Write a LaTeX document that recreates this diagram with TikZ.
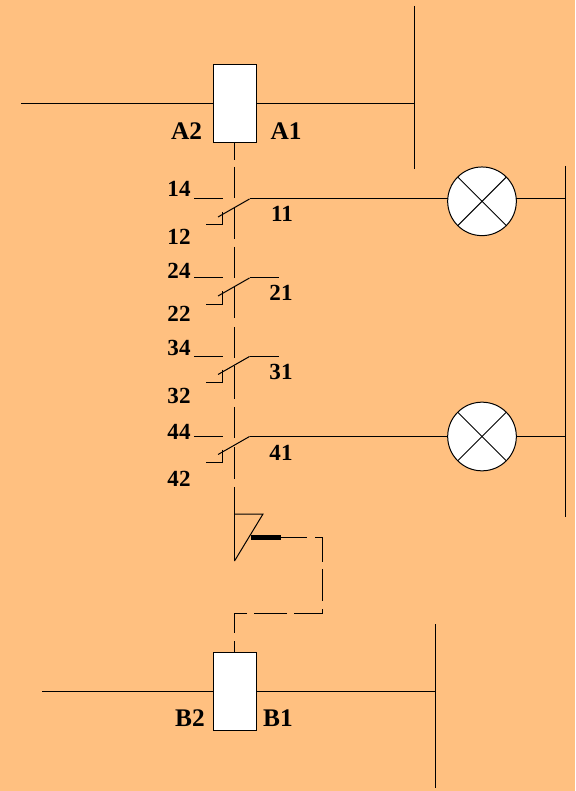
\documentclass[tikz,border=0pt]{standalone}
\usepackage{fontspec}
\setmainfont{Liberation Serif}
\definecolor{bgc}{RGB}{255,192,128}
\tikzset{
  wire/.style={draw=black,line width=0.75pt},
  coilbox/.style={draw=black,fill=white,line width=0.75pt,minimum width=32.25pt,minimum height=58.5pt,inner sep=0pt,outer sep=0pt},
  lampc/.style={circle,draw=black,fill=white,line width=0.75pt,minimum size=51.5pt,inner sep=0pt,outer sep=0pt},
  lbl/.style={font=\bfseries\fontsize{17.3pt}{18pt}\selectfont,inner sep=0pt,text=black},
  lblbig/.style={font=\bfseries\fontsize{19pt}{20pt}\selectfont,inner sep=0pt,text=black}
}
\begin{document}
\begin{tikzpicture}[x=0.75pt,y=-0.75pt]
\useasboundingbox (0,0) rectangle (575,791);
\fill[bgc] (0,0) rectangle (575,791);

% buses
\coordinate (busAt) at (414.5,6); \coordinate (busAb) at (414.5,169);
\coordinate (busBt) at (435.5,624); \coordinate (busBb) at (435.5,788);
\coordinate (busLt) at (565.5,166); \coordinate (busLb) at (565.5,517);
\draw[wire] (busAt) -- (busAb);
\draw[wire] (busBt) -- (busBb);
\draw[wire] (busLt) -- (busLb);

% coils
\coordinate (aL) at (21,103.5); \coordinate (aR) at (414.5,103.5);
\coordinate (bL) at (42,691.5); \coordinate (bR) at (435.5,691.5);
\draw[wire] (aL) -- (aR);
\draw[wire] (bL) -- (bR);
\node[coilbox] (coilA) at (235,103.5) {};
\node[coilbox] (coilB) at (235,691.5) {};

% mechanical link
\draw[wire] (234.5,142.5) -- (234.5,160);
\draw[wire] (234.5,167) -- (234.5,198);
\draw[wire] (234.5,208) -- (234.5,239);
\draw[wire] (234.5,247) -- (234.5,278);
\draw[wire] (234.5,287) -- (234.5,318);
\draw[wire] (234.5,327) -- (234.5,358);
\draw[wire] (234.5,366) -- (234.5,399);
\draw[wire] (234.5,407) -- (234.5,438);
\draw[wire] (234.5,447) -- (234.5,479);
\draw[wire] (234.5,487) -- (234.5,561);

% lamps
\node[lampc] (lamp1) at (482,201.3) {};
\node[lampc] (lamp2) at (482,436.5) {};
\foreach \l in {lamp1,lamp2}{
  \draw[wire] (\l.north west) -- (\l.south east);
  \draw[wire] (\l.north east) -- (\l.south west);
}

% contacts
\foreach \y/\n in {199/a,278/b,356.5/c,436.5/d}{
  \coordinate (f\n) at (194,\y);
  \coordinate (g\n) at (223,\y);
  \coordinate (p\n) at (249.5,\y);
  \coordinate (m\n) at (218,\y+18);
  \coordinate (t\n) at (222.5,\y+13);
  \coordinate (u\n) at (222.5,\y+26);
  \coordinate (v\n) at (205.5,\y+26);
  \draw[wire] (f\n) -- (g\n);
  \draw[wire] (m\n) -- (p\n);
  \draw[wire] (t\n) -- (u\n) -- (v\n);
}
\coordinate (eb) at (279,278); \coordinate (ec) at (279,356.5);
\draw[wire] (pb) -- (eb);
\draw[wire] (pc) -- (ec);
\coordinate (lamp1w) at (447.7,199); \coordinate (lamp1e) at (516.3,199);
\coordinate (lamp2w) at (447.7,436.5); \coordinate (lamp2e) at (516.3,436.5);
\coordinate (busL1) at (565.5,199); \coordinate (busL2) at (565.5,436.5);
\draw[wire] (pa) -- (lamp1w);
\draw[wire] (pd) -- (lamp2w);
\draw[wire] (lamp1e) -- (busL1);
\draw[wire] (lamp2e) -- (busL2);

% thermal relay
\draw[wire] (234.5,514) -- (263,514) -- (234.5,561);
\draw[line width=3.6pt] (251,537.5) -- (281,537.5);
\draw[wire] (281,537.5) -- (307,537.5);
\draw[wire] (315,537.5) -- (322.5,537.5) -- (322.5,561.5);
\draw[wire] (322.5,569) -- (322.5,601);
\draw[wire] (322.5,609) -- (322.5,613.5) -- (294,613.5);
\draw[wire] (287,613.5) -- (254,613.5);
\draw[wire] (247,613.5) -- (234.5,613.5) -- (234.5,633);
\draw[wire] (234.5,641) -- (234.5,652.5);

% labels
\node[lblbig] (tA2) at (186.5,131) {A2};
\node[lblbig] (tA1) at (286,131) {A1};
\node[lbl] (t14) at (179,189) {14};
\node[lbl] (t12) at (179,237) {12};
\node[lbl] (t11) at (282,214) {11};
\node[lbl] (t24) at (179,271) {24};
\node[lbl] (t22) at (179,314) {22};
\node[lbl] (t21) at (281,293) {21};
\node[lbl] (t34) at (179,348) {34};
\node[lbl] (t32) at (179,396) {32};
\node[lbl] (t31) at (281,372) {31};
\node[lbl] (t44) at (179,432) {44};
\node[lbl] (t42) at (179,479) {42};
\node[lbl] (t41) at (281,453) {41};
\node[lblbig] (tB2) at (190,718) {B2};
\node[lblbig] (tB1) at (278,718) {B1};
\end{tikzpicture}
\end{document}
